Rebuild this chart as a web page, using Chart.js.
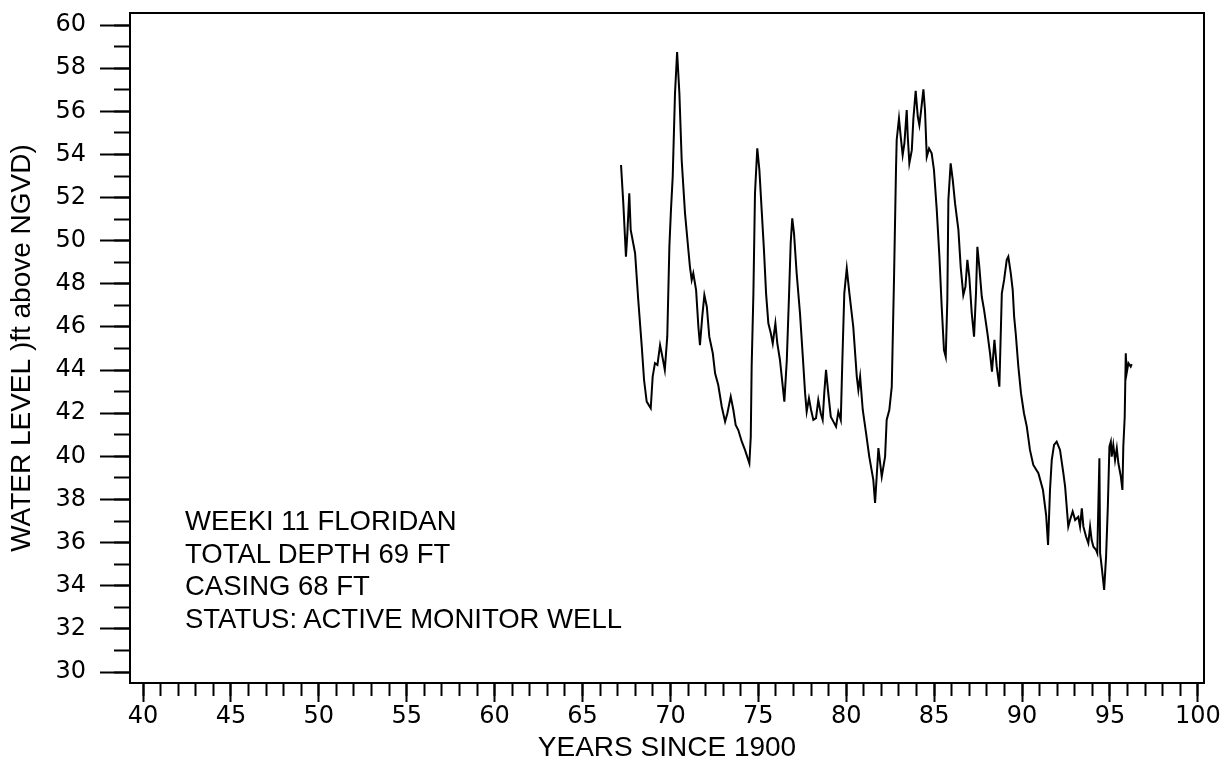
<!DOCTYPE html>
<html>
<head>
<meta charset="utf-8">
<script src="https://cdn.jsdelivr.net/npm/chart.js@4/dist/chart.umd.min.js"></script>
<style>
html,body{margin:0;padding:0;background:#fff;}
#wrap{position:relative;width:1229px;height:771px;}
#note{position:absolute;left:185px;top:505px;font-family:"Liberation Sans",Arial,Helvetica,sans-serif;font-size:27.5px;line-height:32.5px;color:#000;white-space:nowrap;}
</style>
</head>
<body>
<div id="wrap">
<canvas id="c" width="1229" height="771"></canvas>
<div id="note"></div>
</div>
<script>
// ---- data ----
const years = [67.19,67.32,67.47,67.55,67.66,67.74,67.99,68.17,68.37,68.50,68.65,68.88,68.99,69.12,69.26,69.41,69.56,69.68,69.82,69.94,70.03,70.13,70.26,70.38,70.51,70.64,70.83,71.02,71.11,71.21,71.30,71.46,71.59,71.68,71.81,71.93,72.07,72.21,72.41,72.54,72.72,72.92,73.11,73.24,73.43,73.58,73.71,73.86,74.06,74.24,74.49,74.57,74.62,74.72,74.81,74.94,75.06,75.19,75.32,75.44,75.57,75.71,75.82,75.97,76.08,76.23,76.39,76.48,76.62,76.75,76.84,76.93,77.03,77.18,77.37,77.53,77.66,77.75,77.88,78.00,78.13,78.28,78.41,78.55,78.66,78.75,78.85,78.96,79.12,79.27,79.42,79.55,79.69,79.78,79.89,80.03,80.18,80.40,80.60,80.69,80.79,80.94,81.13,81.31,81.54,81.64,81.83,82.02,82.21,82.30,82.45,82.59,82.72,82.83,82.87,83.00,83.10,83.21,83.31,83.44,83.50,83.59,83.73,83.82,83.95,84.07,84.16,84.26,84.39,84.48,84.58,84.71,84.86,84.99,85.15,85.30,85.43,85.56,85.66,85.75,85.81,85.94,86.06,86.19,86.38,86.51,86.66,86.78,86.89,87.00,87.14,87.27,87.38,87.46,87.57,87.71,87.84,88.03,88.18,88.29,88.43,88.56,88.71,88.85,88.98,89.13,89.22,89.36,89.47,89.55,89.64,89.79,89.94,90.11,90.27,90.45,90.64,90.93,91.19,91.37,91.48,91.59,91.69,91.82,91.97,92.16,92.35,92.45,92.63,92.73,92.88,93.02,93.20,93.30,93.40,93.49,93.64,93.77,93.87,93.96,94.06,94.21,94.28,94.40,94.44,94.53,94.67,94.78,94.88,94.97,95.05,95.10,95.19,95.29,95.39,95.48,95.62,95.71,95.76,95.84,95.90,95.95,96.05,96.18,96.24];
const levels = [53.51,51.73,49.26,50.34,52.20,50.50,49.42,47.25,45.09,43.54,42.54,42.23,43.70,44.32,44.24,45.16,44.55,44.01,45.55,49.72,51.42,52.97,56.83,58.75,56.83,53.74,51.27,49.57,48.79,48.18,48.49,47.71,46.01,45.16,46.48,47.48,46.94,45.55,44.78,43.85,43.31,42.30,41.61,42.00,42.77,42.15,41.46,41.22,40.68,40.30,39.68,40.91,44.16,47.56,52.20,54.28,53.28,51.42,49.57,47.56,46.17,45.71,45.24,46.17,45.24,44.47,43.23,42.54,44.47,47.56,49.88,51.04,50.34,48.49,46.63,44.62,42.93,42.07,42.69,42.15,41.69,41.77,42.61,42.00,41.69,42.93,44.01,43.08,41.84,41.61,41.38,42.07,41.69,44.47,47.56,48.72,47.56,46.01,43.70,43.08,43.70,42.15,41.07,39.99,38.91,37.84,40.38,39.06,39.99,41.69,42.15,43.23,48.33,53.28,54.67,55.67,54.82,53.97,54.52,56.06,54.82,53.59,54.20,55.67,56.95,55.75,55.36,56.06,57.02,56.06,53.89,54.28,54.05,53.28,51.42,49.26,46.94,44.93,44.62,47.25,51.89,53.59,52.81,51.73,50.50,48.79,47.48,47.87,49.11,48.33,46.63,45.55,47.56,49.72,48.79,47.40,46.79,45.71,44.78,43.93,45.40,44.16,43.23,47.56,48.18,49.11,49.26,48.49,47.71,46.48,45.71,44.16,42.93,42.00,41.38,40.30,39.60,39.22,38.44,37.28,35.89,38.44,39.83,40.53,40.68,40.30,39.22,38.60,36.74,37.05,37.44,37.05,37.20,36.74,37.59,36.74,36.28,35.97,36.74,36.12,35.81,35.66,35.51,39.91,35.51,34.89,33.81,35.35,37.67,40.45,40.68,39.99,40.53,39.83,40.38,39.68,39.06,38.44,40.45,41.84,44.78,43.85,44.32,44.16,44.28];

const xMajorTicks = [40,45,50,55,60,65,70,75,80,85,90,95,100];
const xMinorTicks = [40,41,42,43,44,45,46,47,48,49,50,51,52,53,54,55,56,57,58,59,60,61,62,63,64,65,66,67,68,69,70,71,72,73,74,75,76,77,78,79,80,81,82,83,84,85,86,87,88,89,90,91,92,93,94,95,96,97,98,99,100];
const yMajorTicks = [30,32,34,36,38,40,42,44,46,48,50,52,54,56,58,60];
const yMinorTicks = [30,31,32,33,34,35,36,37,38,39,40,41,42,43,44,45,46,47,48,49,50,51,52,53,54,55,56,57,58,59,60];

const xTitle = 'YEARS SINCE 1900';
const yTitle = 'WATER LEVEL )ft above NGVD)';
const noteLines = ['WEEKI 11 FLORIDAN', 'TOTAL DEPTH 69 FT', 'CASING 68 FT', 'STATUS: ACTIVE MONITOR WELL'];

// ---- chart ----
document.getElementById('note').innerHTML = noteLines.map(s => '<div>' + s + '</div>').join('');

const FONT = '"Liberation Sans", Arial, Helvetica, sans-serif';
const TICK_FONT = '"DejaVu Sans", "Liberation Sans", Arial, sans-serif';
const X_MIN = 39.26, X_MAX = 100.35, Y_MIN = 29.49, Y_MAX = 60.56;
const INK = '#000';

const points = years.map((x, i) => ({x: x, y: levels[i]}));

function useTicks(arr) { return s => { s.ticks = arr.map(v => ({value: v})); }; }
function fixSize(w, h) {
  return s => {
    if (w !== null) s.width = w;
    if (h !== null) s.height = h;
    s.paddingTop = 0; s.paddingBottom = 0; s.paddingLeft = 0; s.paddingRight = 0;
  };
}
function tickGrid(len) {
  return {display: true, drawOnChartArea: false, drawTicks: true, tickLength: len, tickWidth: 2, tickColor: INK};
}

new Chart(document.getElementById('c'), {
  type: 'line',
  data: {
    datasets: [{
      data: points,
      borderColor: INK,
      borderWidth: 2,
      pointRadius: 0,
      fill: false,
      tension: 0,
      xAxisID: 'x',
      yAxisID: 'y'
    }]
  },
  options: {
    responsive: false,
    animation: false,
    devicePixelRatio: 1,
    layout: {padding: {top: 13, right: 25, bottom: 0, left: 0}},
    plugins: {legend: {display: false}, tooltip: {enabled: false}},
    scales: {
      x: {
        type: 'linear', position: 'bottom', weight: 1,
        min: X_MIN, max: X_MAX,
        afterBuildTicks: useTicks(xMajorTicks),
        afterFit: fixSize(null, 88),
        grid: tickGrid(19),
        border: {display: true, color: INK, width: 2},
        ticks: {color: INK, font: {family: TICK_FONT, size: 24}, padding: 0, autoSkip: false, maxRotation: 0, callback: v => String(v)},
        title: {display: true, text: xTitle, color: INK, font: {family: FONT, size: 28}, padding: {top: 0, bottom: 6}}
      },
      xMinor: {
        type: 'linear', position: 'bottom', weight: 0, display: true,
        min: X_MIN, max: X_MAX,
        afterBuildTicks: useTicks(xMinorTicks),
        afterFit: fixSize(null, 0),
        grid: tickGrid(13),
        border: {display: false},
        ticks: {display: false}
      },
      xTop: {
        type: 'linear', position: 'top', display: true,
        min: X_MIN, max: X_MAX,
        afterFit: fixSize(null, 0),
        grid: {display: false},
        border: {display: true, color: INK, width: 2},
        ticks: {display: false}
      },
      y: {
        type: 'linear', position: 'left', weight: 1,
        min: Y_MIN, max: Y_MAX,
        afterBuildTicks: useTicks(yMajorTicks),
        afterFit: fixSize(130, null),
        grid: tickGrid(30),
        border: {display: true, color: INK, width: 2},
        ticks: {color: INK, font: {family: TICK_FONT, size: 24}, padding: 14, autoSkip: false, callback: v => String(v)},
        title: {display: true, text: yTitle, color: INK, font: {family: FONT, size: 28}, padding: {top: 5, bottom: 0}}
      },
      yMinor: {
        type: 'linear', position: 'left', weight: 0, display: true,
        min: Y_MIN, max: Y_MAX,
        afterBuildTicks: useTicks(yMinorTicks),
        afterFit: fixSize(0, null),
        grid: tickGrid(16),
        border: {display: false},
        ticks: {display: false}
      },
      yRight: {
        type: 'linear', position: 'right', display: true,
        min: Y_MIN, max: Y_MAX,
        afterFit: fixSize(0, null),
        grid: {display: false},
        border: {display: true, color: INK, width: 2},
        ticks: {display: false}
      }
    }
  }
});
</script>
</body>
</html>
